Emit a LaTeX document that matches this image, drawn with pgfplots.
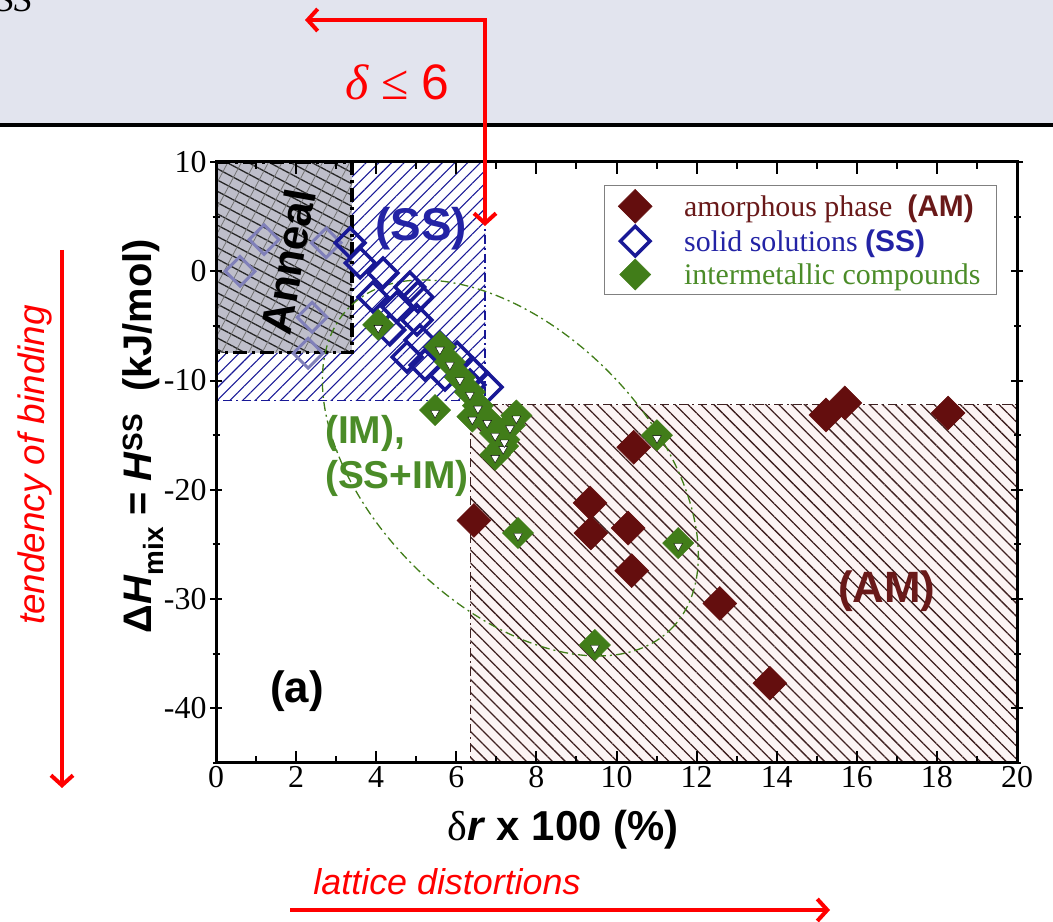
\documentclass[border=0pt]{standalone}
\usepackage{fontspec}
\setmainfont{Liberation Serif}
\setsansfont{Liberation Sans}
\usepackage{pgfplots}
\pgfplotsset{compat=1.18}
\usetikzlibrary{patterns.meta, arrows.meta, shapes.geometric}

\definecolor{amred}{RGB}{100,14,14}
\definecolor{amtext}{RGB}{105,25,25}
\definecolor{ssblue}{RGB}{25,25,150}
\definecolor{sstext}{RGB}{35,35,165}
\definecolor{ssfaint}{RGB}{128,128,185}
\definecolor{imgreen}{RGB}{65,125,25}
\definecolor{imtext}{RGB}{75,140,40}
\definecolor{bgslide}{RGB}{226,228,238}
\definecolor{annealgray}{RGB}{190,190,202}
\definecolor{amhatch}{RGB}{62,32,32}

\begin{document}
\begin{tikzpicture}
\useasboundingbox (0,0) rectangle (1053bp,922bp);
% slide strip at top
\fill[bgslide] (0,797bp) rectangle (1053bp,922bp);
\draw[black, line width=3.5bp] (0,797bp) -- (1053bp,797bp);
\node[anchor=base east, inner sep=0pt, font=\itshape\fontsize{36}{40}\selectfont] at (32bp,910bp) {SS};

\begin{axis}[
  at={(216bp,159bp)}, anchor=south west,
  scale only axis, width=801bp, height=601bp,
  xmin=0, xmax=20, ymin=-45, ymax=10,
  xtick={0,2,...,20}, ytick={-40,-30,...,10},
  minor xtick={1,3,...,19}, minor ytick={-45,-35,...,5},
  xtick align=inside, ytick align=center,
  major tick length=12bp, minor tick length=7bp,
  tick style={line width=2bp, black},
  axis line style={line width=3bp},
  axis on top,
  tick label style={font=\fontsize{32}{36}\selectfont},
  /pgf/number format/assume math mode=true,
  xlabel={{\rmfamily\mdseries δ}\textit{r} x 100 (\%)},
  xlabel style={font=\sffamily\bfseries\fontsize{42}{44}\selectfont, at={(axis description cs:0.433,-0.111)}, anchor=center},
  ylabel={Δ\textit{H}\textsubscript{mix} = \textit{H}\textsuperscript{SS}\ \ (kJ/mol)},
  ylabel style={font=\sffamily\bfseries\fontsize{40}{44}\selectfont, at={(axis description cs:-0.091,0.544)}, anchor=center},
  legend style={at={(rel axis cs:0.975,0.962)}, anchor=north east, draw=gray, line width=1bp,
    font=\fontsize{30}{34}\selectfont, inner xsep=14bp, inner ysep=4bp, row sep=3bp},
  legend cell align=left,
]
% --- regions ---
\addplot[forget plot, no markers, draw=ssblue, line width=1.3bp, dash pattern=on 9bp off 4bp on 2bp off 4bp,
  pattern={Lines[angle=45, distance=9pt, line width=1.1pt]}, pattern color=ssblue]
  coordinates {(0,10) (6.72,10) (6.72,-11.8) (0,-11.8)} -- cycle;
\addplot[forget plot, no markers, draw=none, fill={rgb,255:red,252;green,244;blue,244}]
  coordinates {(6.35,-12.2) (20,-12.2) (20,-45) (6.35,-45)} -- cycle;
\addplot[forget plot, no markers, draw=amhatch, line width=1.3bp, dash pattern=on 9bp off 4bp on 2bp off 4bp,
  pattern={Lines[angle=-45, distance=9.2pt, line width=1.3pt]}, pattern color=amhatch]
  coordinates {(6.35,-12.2) (20,-12.2) (20,-45) (6.35,-45)} -- cycle;
\addplot[forget plot, no markers, draw=none, fill=annealgray]
  coordinates {(0,10) (3.4,10) (3.4,-7.45) (0,-7.45)} -- cycle;
% faint solid solutions seen through the anneal box
\addplot[forget plot, only marks, mark=square, mark size=10.5bp, mark options={rotate=45, line width=3bp, draw=ssfaint}]
  coordinates {(1.2,2.9) (0.6,0.0) (2.75,2.6) (2.4,-4.2) (2.3,-7.5)};
\addplot[forget plot, no markers, draw=none,
  pattern={Lines[angle=-28, distance=10pt, line width=1.3pt]}, pattern color=black!85]
  coordinates {(0,10) (3.4,10) (3.4,-7.45) (0,-7.45)} -- cycle;
\addplot[forget plot, no markers, draw=none,
  pattern={Lines[angle=62, distance=12pt, line width=0.8pt]}, pattern color=black!55]
  coordinates {(0,10) (3.4,10) (3.4,-7.45) (0,-7.45)} -- cycle;
\addplot[forget plot, no markers, draw=black, line width=3.5bp, dash pattern=on 14bp off 5bp on 3bp off 5bp]
  coordinates {(0,10) (3.4,10) (3.4,-7.45) (0,-7.45)} -- cycle;
% IM ellipse
\node[ellipse, draw=imgreen, line width=1.3bp, dash pattern=on 9bp off 4bp on 2bp off 4bp,
  minimum width=455bp, minimum height=275bp, inner sep=0pt, rotate=-45] at (axis cs:7.35,-18.0) {};

% --- data ---
\addplot[only marks, mark=square*, mark size=12bp, mark options={rotate=45, draw=amred, fill=amred, line width=0.5bp}]
  coordinates {(6.44,-22.8) (9.34,-21.2) (9.36,-23.95) (10.29,-23.5) (10.43,-16.1) (10.38,-27.4)
   (12.58,-30.4) (13.83,-37.7) (15.23,-13.15) (15.7,-12.05) (18.28,-12.97)};
\addlegendentry{\hspace*{30bp}\textcolor{amtext}{amorphous phase\ \ \textsf{\bfseries(AM)}}}

\addplot[only marks, mark=square, mark size=10.5bp, mark options={rotate=45, draw=ssblue, line width=3.5bp}]
  coordinates {(3.35,2.6) (3.6,0.76) (4.17,-0.16) (3.92,-2.35) (4.84,-1.44) (5.04,-2.35)
   (4.52,-3.27) (5.02,-4.46) (4.34,-5.37) (5.09,-6.29) (5.59,-6.93) (4.77,-7.85) (5.22,-8.58)
   (6.02,-7.85) (5.72,-9.5) (6.42,-9.31) (6.77,-10.6) (6.34,-10.4)};
\addlegendentry{\hspace*{30bp}\textcolor{sstext}{solid solutions \textsf{\bfseries(SS)}}}

\addplot[only marks, mark=square*, mark size=11bp, mark options={rotate=45, draw=imgreen, fill=imgreen, line width=0.5bp}]
  coordinates {(4.05,-4.9) (5.47,-12.7) (5.59,-6.9) (5.84,-8.3) (6.09,-9.7) (6.34,-11.05)
   (6.54,-12.3) (6.77,-13.6) (6.97,-14.8) (7.17,-16.0) (6.97,-16.8) (7.34,-14.1) (7.2,-15.4)
   (6.4,-13.3) (7.5,-13.2) (7.54,-23.95) (11.01,-15.0) (11.54,-24.87) (9.46,-34.2)};
\addlegendentry{\hspace*{30bp}\textcolor{imtext}{intermetallic compounds}}

\addplot[forget plot, only marks, mark=triangle*, mark size=5bp, mark options={rotate=180, draw=none, fill=white, yshift=3bp}]
  coordinates {(4.05,-4.9) (5.47,-12.7) (5.59,-6.9) (5.84,-8.3) (6.09,-9.7) (6.34,-11.05)
   (6.54,-12.3) (6.77,-13.6) (6.97,-14.8) (7.17,-16.0) (6.97,-16.8) (7.34,-14.1) (7.2,-15.4)
   (6.4,-13.3) (7.5,-13.2) (7.54,-23.95) (11.01,-15.0) (11.54,-24.87) (9.46,-34.2)};

% --- labels in the plot ---
\node[font=\sffamily\bfseries\fontsize{44}{46}\selectfont, rotate=80] at (axis cs:1.8,0.9) {Anneal};
\node[font=\sffamily\bfseries\fontsize{46}{48}\selectfont, text=sstext] at (axis cs:5.12,3.94) {(SS)};
\node[font=\sffamily\bfseries\fontsize{44}{46}\selectfont, text=amtext] at (axis cs:16.75,-29.3) {(AM)};
\node[font=\sffamily\bfseries\fontsize{39}{45}\selectfont, text=imtext, align=left, anchor=west, inner sep=0pt] at (axis cs:2.72,-16.9) {(IM),\\(SS+IM)};
\node[font=\sffamily\bfseries\fontsize{44}{46}\selectfont] at (axis cs:2.02,-38.4) {(a)};
\end{axis}

% --- red annotations ---
\draw[red, line width=4bp, {Straight Barb[length=10bp, width=22bp]}-{Straight Barb[length=10bp, width=22bp]}]
  (305bp,902bp) -- (485bp,902bp) -- (485bp,696bp);
\node[text=red, font=\fontsize{50}{54}\selectfont] at (397bp,840bp) {\textit{δ} ≤ \textsf{6}};
\draw[red, line width=4bp, -{Straight Barb[length=10bp, width=22bp]}] (62bp,672bp) -- (62bp,134bp);
\node[text=red, rotate=90, font=\sffamily\itshape\fontsize{37}{40}\selectfont] at (35bp,457bp) {tendency of binding};
\draw[red, line width=4bp, -{Straight Barb[length=10bp, width=22bp]}] (290bp,12bp) -- (830bp,12bp);
\node[text=red, font=\sffamily\itshape\fontsize{36}{40}\selectfont] at (447bp,40bp) {lattice distortions};
\end{tikzpicture}
\end{document}
